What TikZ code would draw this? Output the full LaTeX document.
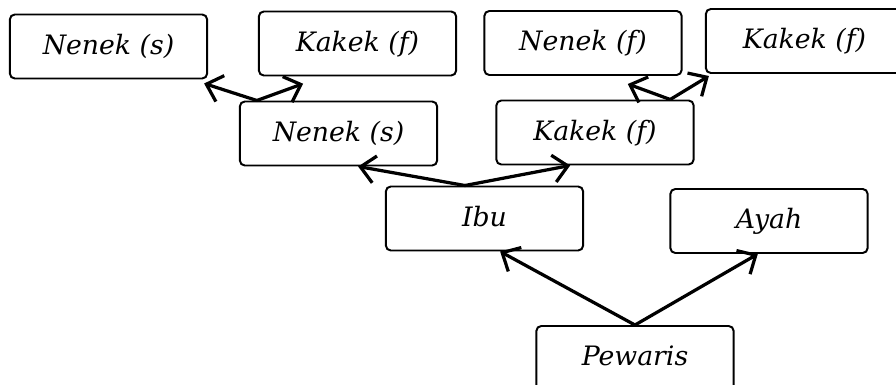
\documentclass[tikz,border=0pt]{standalone}
\usepackage{fontspec}
\setmainfont{DejaVu Serif}
\usetikzlibrary{arrows.meta}

\begin{document}
\begin{tikzpicture}[x=0.025cm,y=-0.025cm,>={Straight Barb[length=3.6mm,width=6.8mm]}]
\useasboundingbox (0,0) rectangle (896,385);
\tikzstyle{kotak}=[draw,rounded corners=3.5pt,line width=1.4pt,minimum width=4.93cm,minimum height=1.6cm,inner sep=0pt,text height=15pt,text depth=4pt,font=\itshape\fontsize{19}{22}\selectfont];
\tikzstyle{panah}=[->,line width=2.3pt];
% generasi kakek nenek
\node[kotak] (nenekS1) at (108.5,46.5) {Nenek (s)};
\node[kotak] (kakekF1) at (357.5,43.5) {Kakek (f)};
\node[kotak] (nenekF) at (583,43) {Nenek (f)};
\node[kotak] (kakekF2) at (804.5,41) {Kakek (f)};
% generasi kedua
\node[kotak] (nenekS2) at (338.5,133.5) {Nenek (s)};
\node[kotak] (kakekF3) at (595,132.5) {Kakek (f)};
% orang tua
\node[kotak] (ibu) at (484.5,218.5) {Ibu};
\node[kotak] (ayah) at (769,221) {Ayah};
\node[kotak] (pewaris) at (635,358) {Pewaris};

\draw[panah] (pewaris.north) -- ([xshift=0.39cm]ibu.south);
\draw[panah] (pewaris.north) -- ([xshift=-0.28cm]ayah.south);
\draw[panah] ([xshift=-0.49cm]ibu.north) -- ([xshift=0.49cm]nenekS2.south);
\draw[panah] ([xshift=-0.49cm]ibu.north) -- ([xshift=-0.62cm]kakekF3.south);
\draw[panah] ([xshift=-2.04cm]nenekS2.north) -- ([shift={(-0.1cm,-0.1cm)}]nenekS1.south east);
\draw[panah] ([xshift=-2.04cm]nenekS2.north) -- ([shift={(-1.36cm,-0.18cm)}]kakekF1.south);
\draw[panah] ([xshift=1.88cm]kakekF3.north) -- ([shift={(1.12cm,-0.2cm)}]nenekF.south);
\draw[panah] ([xshift=1.88cm]kakekF3.north) -- ([shift={(0.1cm,-0.05cm)}]kakekF2.south west);
\end{tikzpicture}
\end{document}
